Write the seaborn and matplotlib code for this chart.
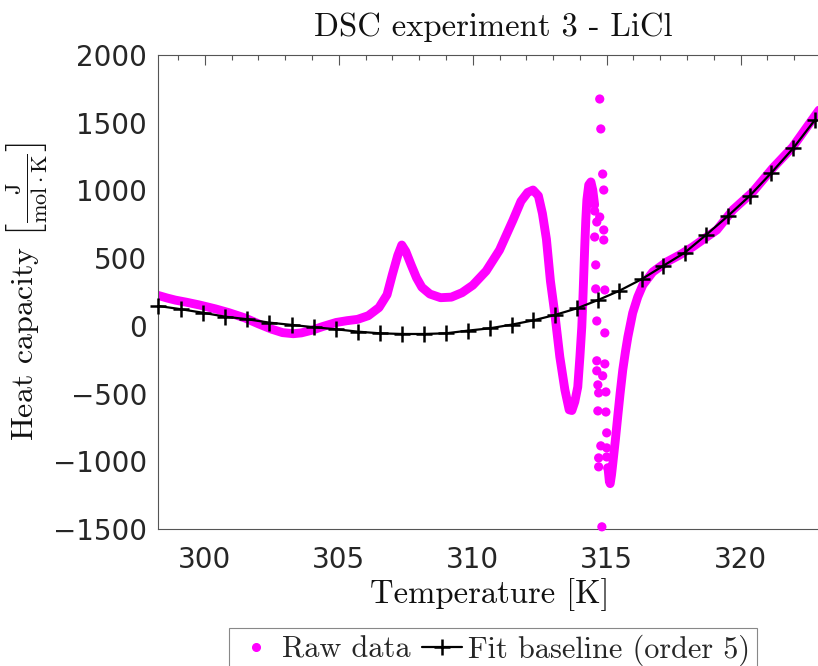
import matplotlib
matplotlib.use("Agg")
import matplotlib.pyplot as plt
import seaborn as sns
from matplotlib.lines import Line2D
from matplotlib.ticker import MultipleLocator

# ---- Raw data: continuous trace before the 315 K event ----
raw_a_T = [298.25, 298.6, 298.9, 299.3, 299.8, 300.4, 300.9, 301.5, 302.0, 302.5,
           302.9, 303.3, 303.6, 304.0, 304.4, 304.9, 305.3, 305.7, 306.1, 306.5,
           306.8, 307.0, 307.2, 307.35, 307.5, 307.7, 307.9, 308.1, 308.4, 308.8,
           309.2, 309.6, 310.0, 310.5, 311.0, 311.5, 311.8, 312.05, 312.25, 312.45,
           312.6, 312.75, 312.9, 313.06, 313.25, 313.44, 313.6, 313.7, 313.81, 313.92,
           314.0, 314.07, 314.11, 314.15, 314.18, 314.22, 314.26, 314.33, 314.41, 314.48,
           314.55]
raw_a_cp = [225, 205, 190, 175, 154, 125, 97, 58, 15, -25,
            -50, -58, -52, -32, -5, 25, 38, 48, 75, 135,
            230, 380, 520, 597, 550, 450, 355, 285, 235, 208,
            212, 245, 300, 405, 560, 780, 920, 985, 1003, 960,
            830, 640, 330, 95, -229, -473, -620, -625, -560, -451,
            -229, -8, 191, 413, 583, 782, 930, 1041, 1063, 1003,
            893]

# ---- Raw data: scattered points at the 315 K event ----
raw_s_T = [314.74, 314.78, 314.85, 314.89, 314.55, 314.74, 314.63, 314.89, 314.55, 314.89,
           314.59, 314.59, 314.93, 314.63, 314.93, 314.63, 314.93, 314.63, 314.85, 314.67,
           314.70, 314.97, 314.67, 314.97, 315.00, 314.78, 315.00, 314.70, 315.00, 314.70,
           315.04, 314.82]
raw_s_cp = [1675, 1454, 1121, 1003, 848, 804, 767, 708, 656, 634,
            450, 273, 265, 36, -52, -258, -281, -332, -369, -436,
            -495, -488, -628, -636, -790, -886, -901, -975, -968, -1041,
            -1049, -1484]

# ---- Raw data: continuous trace after the 315 K event ----
raw_b_T = [315.05, 315.1, 315.13, 315.18, 315.23, 315.32, 315.41, 315.5, 315.6, 315.7,
           315.79, 315.97, 316.16, 316.35, 316.72, 317.24, 317.73, 318.21, 318.73, 319.11,
           319.71, 320.45, 321.2, 321.94, 322.95]
raw_b_cp = [-1050, -1150, -1165, -1100, -1012, -850, -673, -500, -325, -190,
            -82, 95, 214, 302, 398, 472, 524, 583, 656, 708,
            856, 988, 1165, 1320, 1600]

# ---- Fit baseline (order 5) ----
fit_T = [298.26, 299.10, 299.92, 300.75, 301.58, 302.40, 303.24, 304.07, 304.89, 305.72,
         306.53, 307.37, 308.18, 309.00, 309.83, 310.64, 311.45, 312.25, 313.06, 313.90,
         314.68, 315.46, 316.30, 317.10, 317.91, 318.72, 319.53, 320.34, 321.15, 321.96,
         322.77]
fit_cp = [147, 123, 97, 68, 49, 24, 7, -10, -25, -43,
          -55, -60, -60, -55, -35, -18, 9, 40, 80, 130,
          191, 258, 344, 442, 540, 673, 812, 960, 1131, 1311,
          1520]

x_ticks = [300, 305, 310, 315, 320]
y_ticks = [-1500, -1000, -500, 0, 500, 1000, 1500, 2000]

sns.set_theme(style="white")
plt.rcParams["mathtext.fontset"] = "cm"

W, H = 818, 666
fig = plt.figure(figsize=(W / 100, H / 100), dpi=100)
L, R, T, B = 158, 821, 55, 529
ax = fig.add_axes([L / W, 1 - B / H, (R - L) / W, (B - T) / H])

MAG = "#ff00ff"
for xs, ys in [(raw_a_T, raw_a_cp), (raw_b_T, raw_b_cp)]:
    sns.lineplot(x=xs, y=ys, sort=False, estimator=None, color=MAG, lw=6.4,
                 solid_capstyle="round", solid_joinstyle="round", ax=ax)
sns.scatterplot(x=raw_s_T, y=raw_s_cp, color=MAG, s=44, edgecolor="none",
                clip_on=False, ax=ax, zorder=3)
sns.lineplot(x=fit_T, y=fit_cp, sort=False, estimator=None, color="black", lw=1.6,
             marker="+", markersize=12, markeredgewidth=1.8, markeredgecolor="black",
             ax=ax, zorder=4, clip_on=False)

ax.set_xlim(298.25, 323.0)
ax.set_ylim(-1500, 2000)
ax.set_xticks(x_ticks)
ax.set_yticks(y_ticks)
ax.xaxis.set_minor_locator(MultipleLocator(1))
ax.yaxis.set_minor_locator(MultipleLocator(100))
ax.tick_params(which="both", direction="in", top=True, right=False,
               color="#555555", labelsize=20, labelcolor="#262626", width=0.8)
ax.tick_params(which="major", length=7)
ax.tick_params(which="minor", length=3.5)
ax.tick_params(axis="x", pad=12)
ax.tick_params(axis="y", pad=8)
for sp in ax.spines.values():
    sp.set_color("#555555")
    sp.set_linewidth(0.8)
ax.spines["right"].set_visible(False)

LBL = 23.5
ax.set_title("DSC experiment 3 - LiCl", fontfamily="cmr10", fontsize=LBL,
             pad=14, color="#111111", x=0.505)
ax.set_xlabel("Temperature [K]", fontfamily="cmr10", fontsize=LBL, labelpad=3,
              color="#111111")
ax.set_ylabel(r"Heat capacity $\left[\frac{\mathrm{J}}{\mathrm{mol}\cdot\mathrm{K}}\right]$",
              fontfamily="cmr10", fontsize=23, labelpad=2, color="#111111")

handles = [Line2D([], [], ls="none", marker=".", color=MAG, markersize=11),
           Line2D([], [], color="black", lw=1.6, marker="+", markersize=12,
                  markeredgewidth=1.8)]
leg = fig.legend(handles, ["Raw data", "Fit baseline (order 5)"], loc="upper center",
                 bbox_to_anchor=(493 / W, 1 - 628 / H), ncol=2, frameon=True,
                 fancybox=False, edgecolor="#888888", framealpha=1,
                 prop={"family": "cmr10", "size": 21.8}, handlelength=1.35,
                 handletextpad=0.18, columnspacing=0.35, borderpad=0.22,
                 borderaxespad=0)
leg.get_frame().set_linewidth(0.8)

fig.savefig("out.png", dpi=100)
